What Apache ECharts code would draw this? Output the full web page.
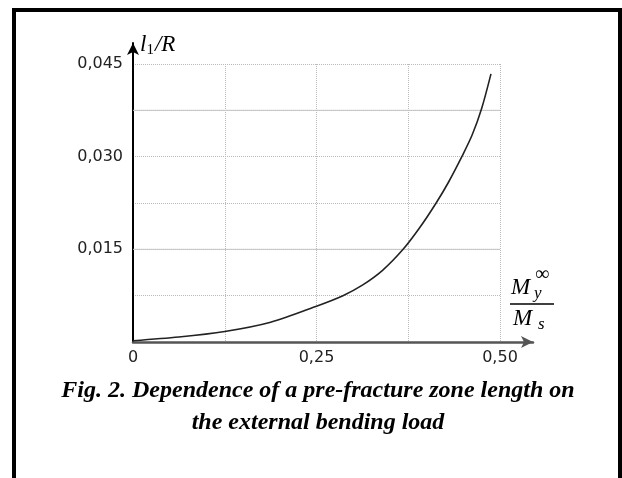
<!DOCTYPE html>
<html lang="en">
<head>
    <meta charset="UTF-8">
    <title>Fig. 2</title>
    <script src="https://cdn.jsdelivr.net/npm/echarts@6.0.0/dist/echarts.min.js"></script>
    <style>
        html, body { margin: 0; padding: 0; background: #fff; }
        #main { width: 622px; height: 478px; }
    </style>
</head>
<body>
<div id="main"></div>

<script>
    // M_y / M_s  ->  l1 / R
    var loadRatio = [0, 0.0625, 0.125, 0.1875, 0.25, 0.286, 0.3125, 0.34, 0.368, 0.39, 0.413, 0.43, 0.448, 0.462, 0.475, 0.4877];
    var zoneLength = [0.0002, 0.0008, 0.0017, 0.0032, 0.0058, 0.0075, 0.0092, 0.0116, 0.015, 0.0184, 0.0225, 0.0259, 0.030, 0.0335, 0.0378, 0.0434];

    var xTicks = [0, 0.25, 0.5];
    var xTickText = ['0', '0,25', '0,50'];
    var yTicks = [0.015, 0.03, 0.045];
    var yTickText = ['0,015', '0,030', '0,045'];
    // grid levels that are drawn solid in the original
    var solidLevels = [0.015, 0.0375];

    function tickLabel(ticks, texts) {
        return function (v) {
            for (var i = 0; i < ticks.length; i++) {
                if (Math.abs(v - ticks[i]) < 1e-9) return texts[i];
            }
            return '';
        };
    }

    var serif = '"Liberation Serif", "Times New Roman", serif';
    var sans = '"DejaVu Sans", Verdana, sans-serif';

    var points = loadRatio.map(function (x, i) { return [x, zoneLength[i]]; });

    var myChart = echarts.init(document.getElementById('main'));

    var dotted = { show: true, lineStyle: { color: '#bababa', type: [1, 1], width: 1 } };

    var series = solidLevels.map(function (lvl) {
        return {
            type: 'line', silent: true, xAxisIndex: 0, yAxisIndex: 0,
            data: [[0, lvl], [0.5, lvl]], showSymbol: false, z: 1,
            lineStyle: { color: '#c4c4c4', width: 1 }
        };
    });
    series.push({
        type: 'line',
        xAxisIndex: 0, yAxisIndex: 0,
        data: points,
        smooth: 0.3,
        showSymbol: false,
        z: 3,
        lineStyle: { color: '#222', width: 1.6 }
    });

    var option = {
        animation: false,
        backgroundColor: '#fff',
        grid: [
            { left: 133, top: 64, width: 367, height: 278 },
            { left: 133, top: 43, width: 400, height: 299 }
        ],
        xAxis: [{
            gridIndex: 0, type: 'value', min: 0, max: 0.5, interval: 0.125,
            axisLine: { show: false }, axisTick: { show: false },
            axisLabel: { formatter: tickLabel(xTicks, xTickText), color: '#222', fontFamily: sans, fontSize: 16, margin: 8 },
            splitLine: dotted
        }, {
            gridIndex: 1, type: 'value', min: 0, max: 1,
            axisLine: { show: true, onZero: false, symbol: ['none', 'arrow'], symbolSize: [9, 12],
                lineStyle: { color: '#555', width: 2.5 } },
            axisTick: { show: false }, axisLabel: { show: false }, splitLine: { show: false }
        }],
        yAxis: [{
            gridIndex: 0, type: 'value', min: 0, max: 0.045, interval: 0.0075,
            axisLine: { show: false }, axisTick: { show: false },
            axisLabel: { formatter: tickLabel(yTicks, yTickText), color: '#222', fontFamily: sans, fontSize: 16, margin: 10 },
            splitLine: dotted
        }, {
            gridIndex: 1, type: 'value', min: 0, max: 1,
            axisLine: { show: true, onZero: false, symbol: ['none', 'arrow'], symbolSize: [9, 12],
                lineStyle: { color: '#000', width: 2 } },
            axisTick: { show: false }, axisLabel: { show: false }, splitLine: { show: false }
        }],
        series: series,
        graphic: [
            { type: 'rect', shape: { x: 14, y: 10, width: 606, height: 520 },
              style: { fill: 'none', stroke: '#000', lineWidth: 4 } },
            { type: 'text', x: 140, y: 45,
              style: {
                  text: '{i|l}{s|1}{i|/R}', verticalAlign: 'middle',
                  rich: {
                      i: { fontFamily: serif, fontStyle: 'italic', fontSize: 23, color: '#000', lineHeight: 26 },
                      s: { fontFamily: serif, fontSize: 15, color: '#000', lineHeight: 26, verticalAlign: 'bottom', padding: [0, 1, 0, 0] }
                  }
              } },
            { type: 'text', x: 511, y: 288, style: { text: 'M', font: 'italic 23px ' + serif, fill: '#000', verticalAlign: 'middle' } },
            { type: 'text', x: 535, y: 275, style: { text: '∞', font: '20px ' + serif, fill: '#000', verticalAlign: 'middle' } },
            { type: 'text', x: 534, y: 294, style: { text: 'y', font: 'italic 17px ' + serif, fill: '#000', verticalAlign: 'middle' } },
            { type: 'line', shape: { x1: 510, y1: 304, x2: 554, y2: 304 }, style: { stroke: '#000', lineWidth: 1.3 } },
            { type: 'text', x: 513, y: 319, style: { text: 'M', font: 'italic 23px ' + serif, fill: '#000', verticalAlign: 'middle' } },
            { type: 'text', x: 538, y: 325, style: { text: 's', font: 'italic 17px ' + serif, fill: '#000', verticalAlign: 'middle' } },
            { type: 'text', x: 318, y: 391,
              style: { text: 'Fig. 2. Dependence of a pre-fracture zone length on', font: 'italic bold 24px ' + serif,
                       fill: '#000', align: 'center', verticalAlign: 'middle' } },
            { type: 'text', x: 318, y: 423,
              style: { text: 'the external bending load', font: 'italic bold 24px ' + serif,
                       fill: '#000', align: 'center', verticalAlign: 'middle' } }
        ]
    };

    myChart.setOption(option);
</script>
</body>
</html>
